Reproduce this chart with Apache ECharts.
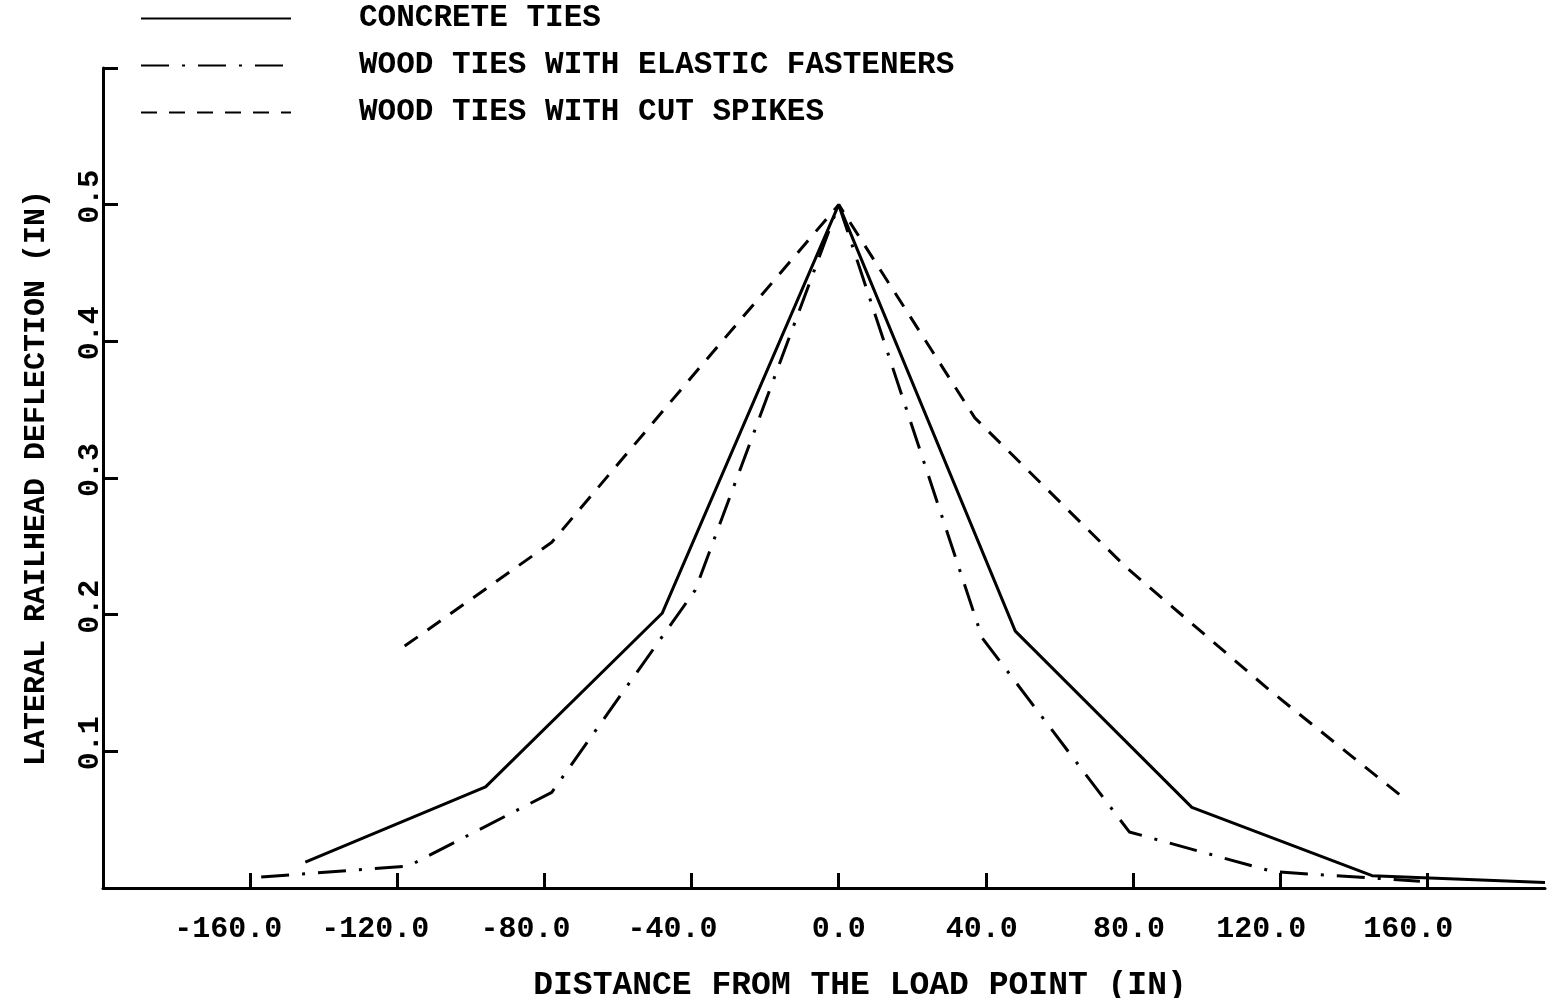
<!DOCTYPE html>
<html>
<head>
<meta charset="utf-8">
<script src="https://cdn.jsdelivr.net/npm/echarts@6/dist/echarts.min.js"></script>
<style>
  html, body { margin: 0; padding: 0; background: #fff; }
  #chart { width: 1568px; height: 998px; }
</style>
</head>
<body>
<div id="chart"></div>
<script>
// Lateral railhead deflection along the rail for three track types
const seriesNames = ['CONCRETE TIES', 'WOOD TIES WITH ELASTIC FASTENERS', 'WOOD TIES WITH CUT SPIKES'];

const concreteX = [-145, -96, -48, 0, 48, 96, 145, 192];
const concreteY = [0.019, 0.074, 0.201, 0.500, 0.188, 0.059, 0.009, 0.004];

const elasticX = [-157, -117, -78, -39, 0, 39, 79, 118, 158];
const elasticY = [0.008, 0.016, 0.070, 0.218, 0.500, 0.183, 0.041, 0.012, 0.005];

const spikesX = [-118, -78, -39, 0, 37, 78, 117, 154];
const spikesY = [0.177, 0.253, 0.377, 0.500, 0.344, 0.235, 0.145, 0.065];

const xTickValues = [-160, -120, -80, -40, 0, 40, 80, 120, 160];
const yTickValues = [0.1, 0.2, 0.3, 0.4, 0.5, 0.6];
const yLabelValues = [0.1, 0.2, 0.3, 0.4, 0.5];

const xAxisTitle = 'DISTANCE FROM THE LOAD POINT (IN)';
const yAxisTitle = 'LATERAL RAILHEAD DEFLECTION (IN)';

const FONT = "'Liberation Mono', 'DejaVu Sans Mono', monospace";
const INK = '#000';

const zip = (xs, ys) => xs.map((x, i) => [x, ys[i]]);

const chart = echarts.init(document.getElementById('chart'), null, { renderer: 'canvas' });

const baseText = { fontFamily: FONT, fontWeight: 'bold', color: INK };

// x tick labels sit slightly left of their ticks, more so for the longer ones
const xLabelRich = {
  s0: Object.assign({}, baseText, { fontSize: 30, padding: [0, 0, 0, 0] }),
  s4: Object.assign({}, baseText, { fontSize: 30, padding: [0, 8, 0, 0] }),
  s5: Object.assign({}, baseText, { fontSize: 30, padding: [0, 38, 0, 0] }),
  s6: Object.assign({}, baseText, { fontSize: 30, padding: [0, 44, 0, 0] })
};
function xLabel(v) {
  const s = v.toFixed(1);
  const key = s.length >= 6 ? 's6' : s.length === 5 ? 's5' : s.length === 4 ? 's4' : 's0';
  return '{' + key + '|' + s + '}';
}

chart.setOption({
  backgroundColor: '#fff',
  animation: false,
  grid: { left: 103, right: 23, top: 68, bottom: 110, containLabel: false, outerBoundsMode: 'none' },
  legend: {
    orient: 'vertical',
    left: 140,
    top: 3,
    padding: 0,
    itemWidth: 150,
    itemHeight: 14,
    itemGap: 16,
    selectedMode: false,
    itemStyle: { opacity: 0, borderWidth: 0 },
    textStyle: Object.assign({}, baseText, { fontSize: 31, lineHeight: 30, padding: [0, 0, 0, 63] }),
    data: seriesNames
  },
  xAxis: {
    type: 'value',
    min: -200,
    max: 192,
    interval: 40,
    splitLine: { show: false },
    axisLine: { show: true, onZero: false, lineStyle: { color: INK, width: 3 } },
    axisTick: { show: true, inside: true, length: 15, customValues: xTickValues, lineStyle: { color: INK, width: 3 } },
    axisLabel: Object.assign({}, baseText, {
      fontSize: 30,
      margin: 26,
      customValues: xTickValues,
      formatter: xLabel,
      rich: xLabelRich
    }),
    name: xAxisTitle,
    nameLocation: 'middle',
    nameGap: 81,
    nameTextStyle: Object.assign({}, baseText, { fontSize: 33, padding: [0, 0, 0, 72] })
  },
  yAxis: {
    type: 'value',
    min: 0,
    max: 0.6,
    interval: 0.1,
    splitLine: { show: false },
    axisLine: { show: true, onZero: false, lineStyle: { color: INK, width: 3 } },
    axisTick: { show: true, inside: true, length: 15, customValues: yTickValues, lineStyle: { color: INK, width: 3 } },
    axisLabel: Object.assign({}, baseText, {
      fontSize: 30,
      rotate: 90,
      margin: -2,
      align: 'center',
      verticalAlign: 'bottom',
      padding: [0, 0, 0, 16],
      customValues: yLabelValues,
      formatter: v => v.toFixed(1)
    }),
    name: yAxisTitle,
    nameLocation: 'middle',
    nameGap: 52,
    nameTextStyle: Object.assign({}, baseText, { fontSize: 30 })
  },
  series: [
    {
      name: seriesNames[0],
      type: 'line',
      data: zip(concreteX, concreteY),
      symbol: 'none',
      lineStyle: { color: INK, width: 3, type: 'solid' },
      itemStyle: { color: INK }
    },
    {
      name: seriesNames[1],
      type: 'line',
      data: zip(elasticX, elasticY),
      symbol: 'none',
      lineStyle: { color: INK, width: 3, type: [28, 13, 3, 13] },
      itemStyle: { color: INK }
    },
    {
      name: seriesNames[2],
      type: 'line',
      data: zip(spikesX, spikesY),
      symbol: 'none',
      lineStyle: { color: INK, width: 3, type: [16, 12] },
      itemStyle: { color: INK }
    }
  ]
});
</script>
</body>
</html>
